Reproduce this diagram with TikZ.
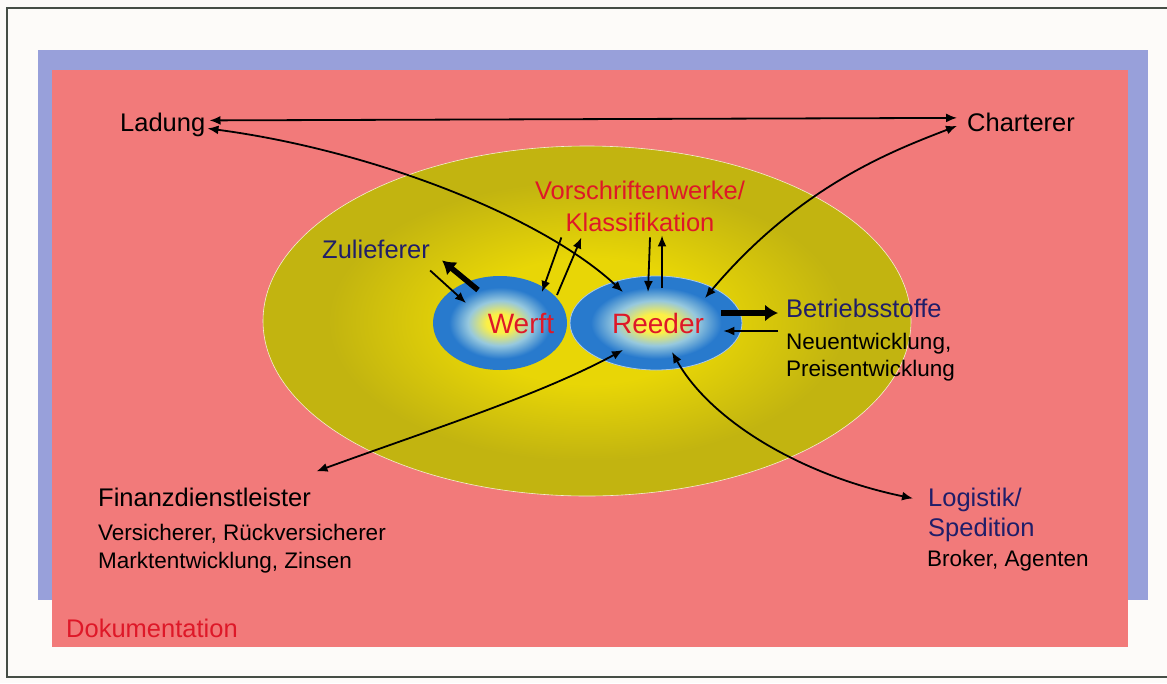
\documentclass[tikz,border=0pt]{standalone}
\usepackage{fontspec}
\setmainfont{Liberation Sans}
\usetikzlibrary{arrows.meta,calc,shapes.geometric}

\definecolor{pagebg}{RGB}{253,251,249}
\definecolor{framec}{RGB}{70,78,70}
\definecolor{outerblue}{RGB}{152,160,218}
\definecolor{salmon}{RGB}{242,122,122}
\definecolor{oliveA}{RGB}{232,214,6}
\definecolor{oliveB}{RGB}{194,180,16}
\definecolor{eggY}{RGB}{252,240,70}
\definecolor{eggL}{RGB}{150,200,222}
\definecolor{eggB}{RGB}{40,122,205}
\definecolor{labred}{RGB}{222,24,40}
\definecolor{navy}{RGB}{32,30,105}

% radial fills, rim of the shape at 25bp
\pgfdeclareradialshading{eggshade}{\pgfpointorigin}{%
  color(0bp)=(eggY);color(5bp)=(eggY);color(12bp)=(eggL);%
  color(19bp)=(eggB);color(25bp)=(eggB);color(50bp)=(eggB)}
\pgfdeclareradialshading{fieldshade}{\pgfpointorigin}{%
  color(0bp)=(oliveA);color(9bp)=(oliveA);color(20bp)=(oliveB);%
  color(25bp)=(oliveB);color(50bp)=(oliveB)}

\tikzset{
  big/.style={font=\fontsize{25.5}{30}\selectfont, inner sep=2pt},
  small/.style={font=\fontsize{22.5}{27}\selectfont, inner sep=2pt},
  eggtext/.style={font=\fontsize{28}{32}\selectfont, text=labred, inner sep=0pt},
  egg/.style={ellipse, shade, shading=eggshade, inner sep=0pt},
  link/.style={line width=1.8pt, {Latex[length=11pt,width=9pt]}-{Latex[length=11pt,width=9pt]}},
  oneway/.style={line width=1.8pt, -{Latex[length=11pt,width=9pt]}},
  heavy/.style={line width=5.5pt, -{Latex[length=13pt,width=17pt]}},
}

\begin{document}
\begin{tikzpicture}[x=1pt,y=-1pt]
\useasboundingbox (0,0) rectangle (1167,683);
% page and frame
\fill[pagebg] (0,0) rectangle (1167,683);
\draw[framec, line width=1.5pt] (7,8) rectangle (1180,677);
% background panels
\fill[outerblue] (38,50) rectangle (1148,600);
\fill[salmon] (52,70) rectangle (1128,647);

% market field
\node[ellipse, shade, shading=fieldshade, draw=white!80!oliveB, line width=0.6pt,
      minimum width=648pt, minimum height=350pt, inner sep=0pt] (field) at (587,321) {};

% core actors
\node[egg, minimum width=134pt, minimum height=94pt] (werft) at (500,323) {};
\node[egg, draw=white!60!eggB, line width=0.8pt, minimum width=172pt, minimum height=94pt] (reeder) at (656,323) {};
\node[eggtext, anchor=base] (werftlbl) at (521,333) {Werft};
\node[eggtext, anchor=base] (reederlbl) at (658,333) {Reeder};

% labels
\node[big, anchor=base west] (ladung) at (118,131) {Ladung};
\node[big, anchor=base west] (charterer) at (965,131) {Charterer};
\node[big, anchor=base, text=labred] (vorschr) at (640,199) {Vorschriftenwerke/};
\node[big, anchor=base, text=labred] (klass) at (640,231) {Klassifikation};
\node[big, anchor=base west, text=navy] (zulief) at (320,258) {Zulieferer};
\node[big, anchor=base west, text=navy] (betrieb) at (784,317) {Betriebsstoffe};
\node[small, anchor=base west] (neu) at (784,349) {Neuentwicklung,};
\node[small, anchor=base west] (preis) at (784,376) {Preisentwicklung};
\node[big, anchor=base west] (finanz) at (96,506) {Finanzdienstleister};
\node[small, anchor=base west] (versich) at (96,540) {Versicherer, Rückversicherer};
\node[small, anchor=base west] (markt) at (96,568) {Marktentwicklung, Zinsen};
\node[big, anchor=base west, text=navy] (logistik) at (926,506) {Logistik/};
\node[big, anchor=base west, text=navy] (spedition) at (926,536) {Spedition};
\node[small, anchor=base west] (broker) at (925,566) {Broker, Agenten};
\node[big, anchor=base west, text=labred] (doku) at (64,637) {Dokumentation};

% connector ends inside the ellipses and beside the labels
\coordinate (rL) at ($(reeder)+(-33,-31)$);
\coordinate (rC) at ($(reeder)+(49,-25)$);
\coordinate (rF) at ($(reeder)+(-33,27)$);
\coordinate (rG) at ($(reeder)+(16,29)$);
\coordinate (rB1) at ($(reeder.east)+(-21,-10)$);
\coordinate (rB2) at ($(reeder.east)+(-19,8)$);
\coordinate (lA) at ($(ladung.east)+(2,-4)$);
\coordinate (lB) at ($(ladung.east)+(0,4)$);
\coordinate (cA) at ($(charterer.west)+(-8,-4)$);
\coordinate (cB) at ($(charterer.west)+(-8,4)$);
\coordinate (fA) at ($(finanz.north)+(112,-14)$);
\coordinate (gA) at ($(logistik.west)+(-13,-1)$);

% long-range relations
\draw[link] (lA) -- (cA);
\draw[link] (lB) .. controls (370,150) and (540,215) .. (rL);
\draw[link] (cB) .. controls (895,150) and (800,185) .. (rC);
\draw[link] (fA) .. controls (430,430) and (540,395) .. (rF);
\draw[link] (gA) .. controls (800,475) and (710,420) .. (rG);

% classification society
\draw[oneway] ($(klass.south west)+(-2,4)$) -- ($(werft)+(42,-31)$);
\draw[oneway] ($(werft)+(57,-28)$) -- ($(klass.south west)+(18,4)$);
\draw[oneway] ($(klass.south)+(10,4)$) -- ($(reeder)+(-8,-31)$);
\draw[oneway] ($(reeder)+(6,-35)$) -- ($(klass.south)+(22,2)$);

% suppliers
\draw[heavy] ($(werft)+(-22,-33)$) -- ($(zulief.south east)+(10,0)$);
\draw[oneway] ($(zulief.south east)+(-2,10)$) -- ($(werft)+(-34,-20)$);

% operating supplies
\draw[heavy, shorten >=6pt] (rB1) -- (betrieb.west |- rB1);
\draw[oneway, shorten <=6pt] (betrieb.west |- rB2) -- (rB2);
\end{tikzpicture}
\end{document}
